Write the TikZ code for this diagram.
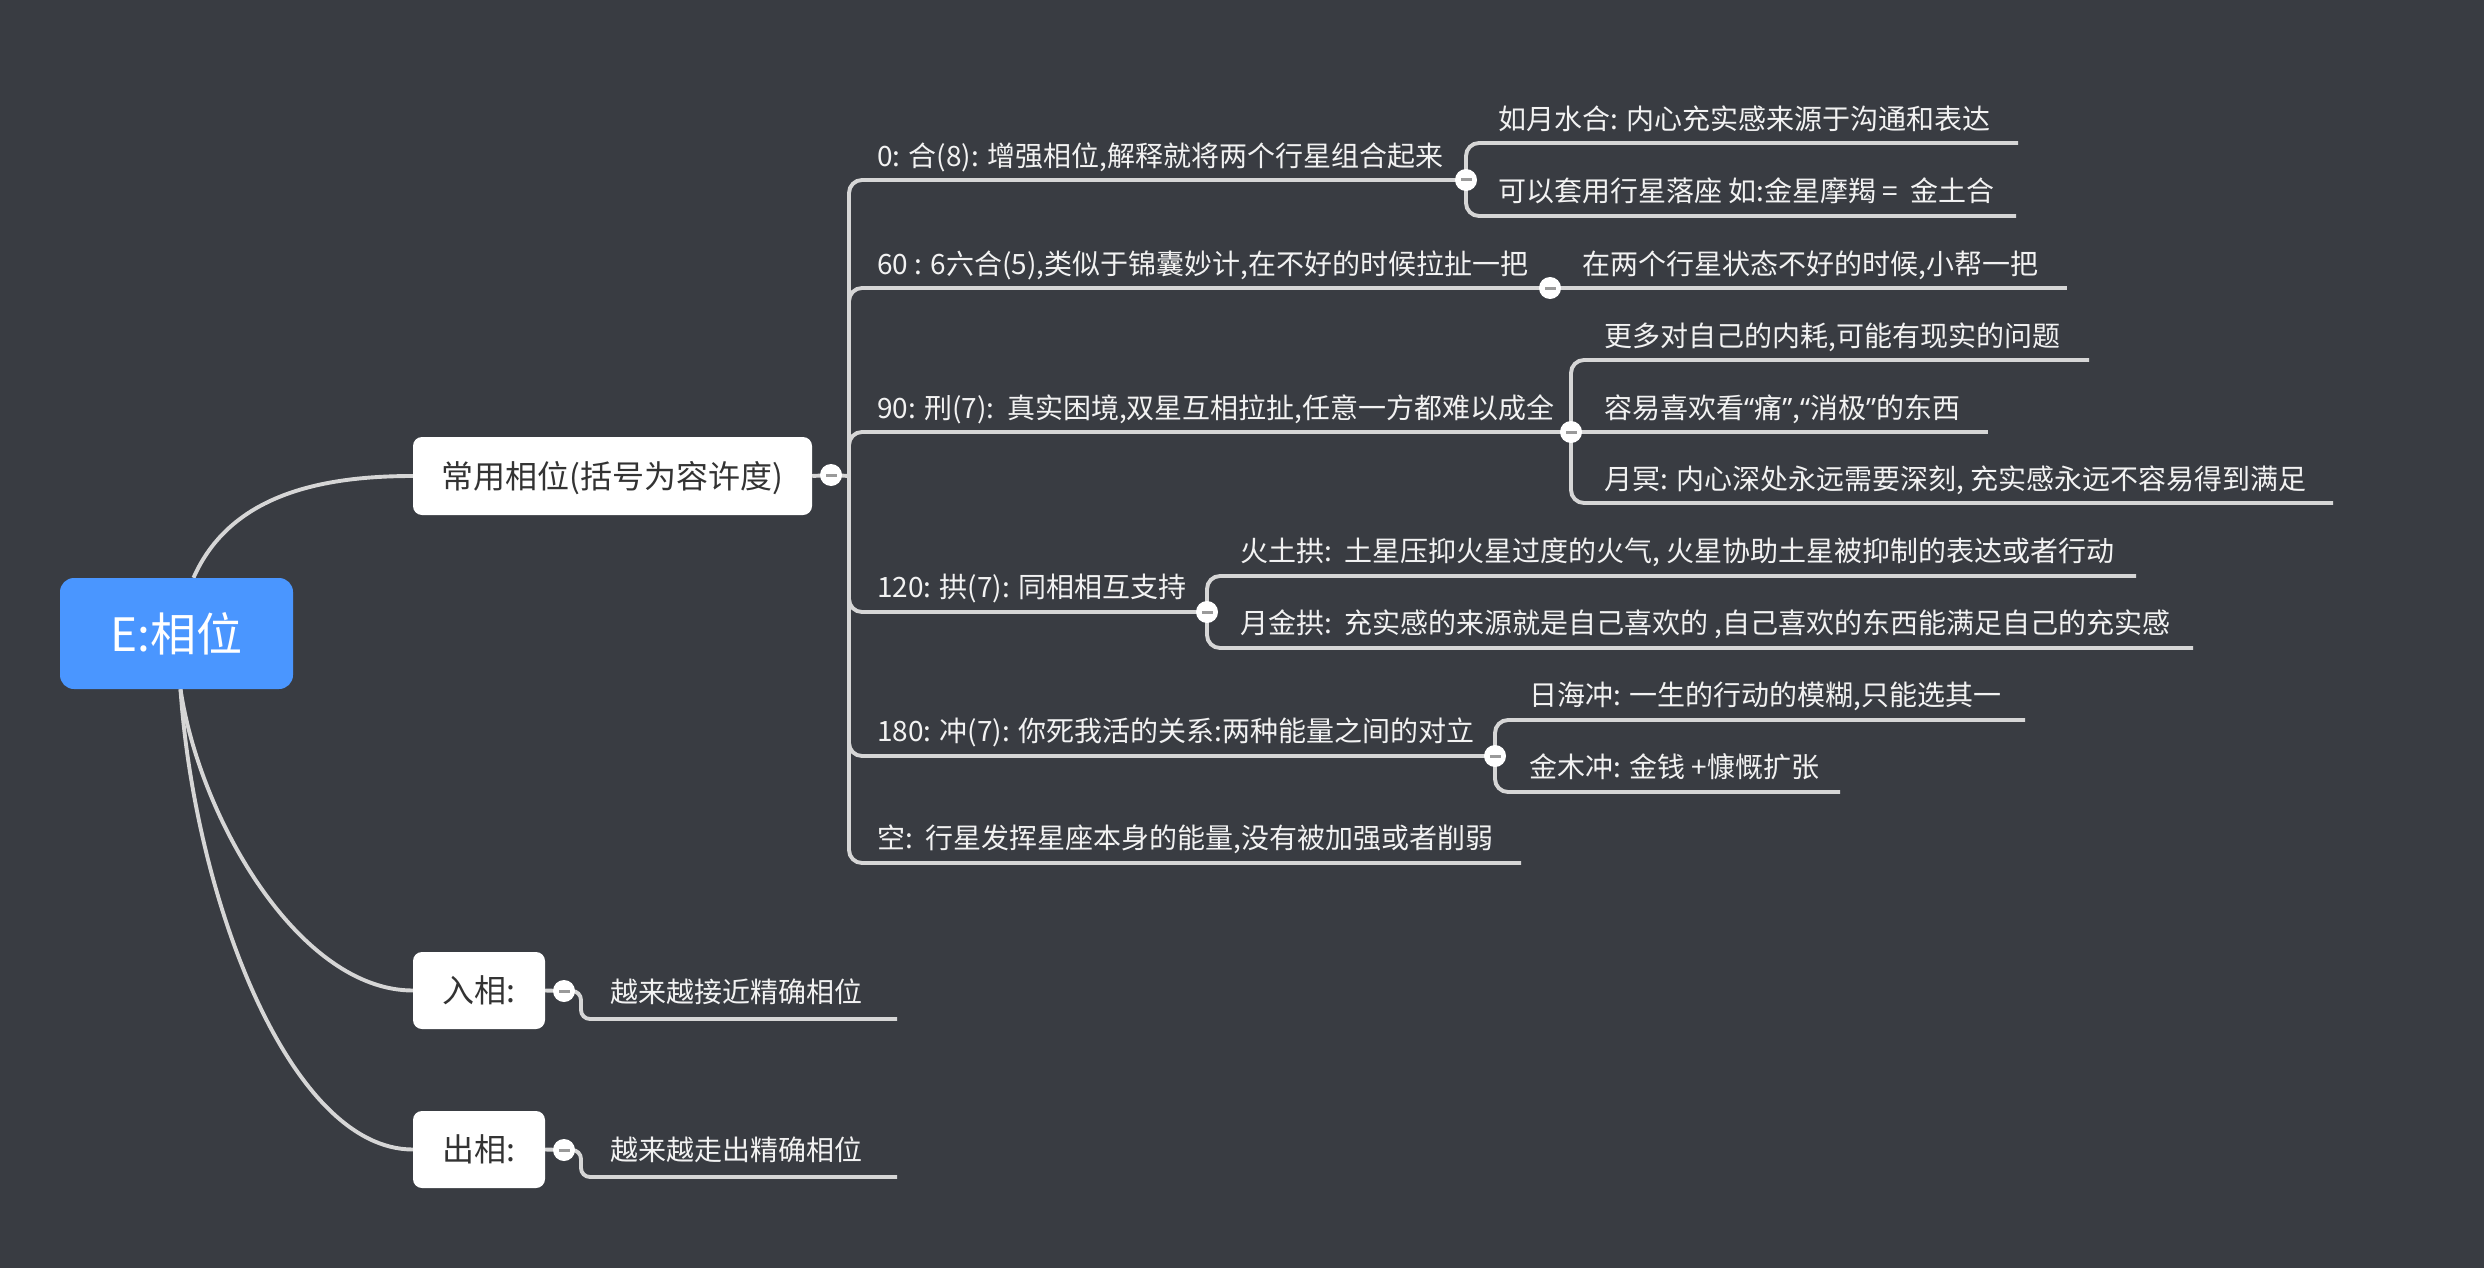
\documentclass[tikz,border=0pt]{standalone}
\usepackage{fontspec}
\setmainfont{Noto Sans CJK SC}
\newfontfamily\quotefont{Noto Sans}
\pgfdeclarelayer{back}
\pgfdeclarelayer{lines}
\pgfsetlayers{back,lines,main}

\definecolor{bgc}{HTML}{393C42}
\definecolor{linec}{HTML}{D6D6D6}
\definecolor{rootc}{HTML}{4A96FF}
\definecolor{boxtext}{HTML}{333333}
\definecolor{leafc}{HTML}{F2F2F2}
\definecolor{minusc}{HTML}{9A9A9A}

% narrow curly quotes
\newcommand{\openq}{{\quotefont “}}
\newcommand{\closeq}{{\quotefont ”}}

\tikzset{
  conn/.style={draw=linec, line width=3.9pt},
  leaf/.style={anchor=west, inner sep=0pt, text=leafc,
    font=\fontsize{28}{34}\selectfont, text height=23pt, text depth=2pt},
  topic/.style={fill=white, rounded corners=9pt, text=boxtext, inner sep=0pt,
    font=\fontsize{32}{38}\selectfont, text height=26pt, text depth=2pt},
  rootbox/.style={fill=rootc, rounded corners=14pt, text=white, inner sep=0pt,
    font=\fontsize{46}{54}\selectfont, text height=38pt, text depth=3pt},
  fold/.style={circle, fill=white, minimum size=22pt, inner sep=0pt,
    path picture={\fill[minusc] ([xshift=-5.5pt,yshift=-1.5pt]path picture bounding box.center) rectangle ++(11pt,3pt);}},
}

\begin{document}
\begin{tikzpicture}[x=1pt,y=-1pt]
\begin{pgfonlayer}{back}
  \fill[bgc] (0,0) rectangle (2484,1268);
\end{pgfonlayer}
\useasboundingbox (0,0) rectangle (2484,1268);

% central topic and main topics
\node[rootbox, minimum width=233pt, minimum height=111pt] (root) at (176.5,633.5) {E:相位};
\node[topic, minimum width=399pt, minimum height=78pt] (main) at (612.5,476) {常用相位(括号为容许度)};
\node[topic, minimum width=132pt, minimum height=77pt] (inbox) at (479,990.5) {入相:};
\node[topic, minimum width=132pt, minimum height=77pt] (outbox) at (479,1149.5) {出相:};

% fold markers
\node[fold] (fm) at (831,475) {};
\node[fold] (f0) at (1466,180) {};
\node[fold] (f60) at (1550,288) {};
\node[fold] (f90) at (1571,432) {};
\node[fold] (f120) at (1207,612) {};
\node[fold] (f180) at (1495,756) {};
\node[fold] (fin) at (564,991) {};
\node[fold] (fout) at (564,1150) {};

% junction on the trunk and ends of the underlines
\coordinate (j) at (849,476);
\coordinate (eN) at (1521,863);
\coordinate (e0a) at (2018,143);
\coordinate (e0b) at (2016,216);
\coordinate (e60a) at (2067,288);
\coordinate (e90a) at (2089,360);
\coordinate (e90b) at (1988,432);
\coordinate (e90c) at (2333,503);
\coordinate (e120a) at (2136,576);
\coordinate (e120b) at (2193,648);
\coordinate (e180a) at (2025,720);
\coordinate (e180b) at (1840,792);
\coordinate (ein) at (897,1019);
\coordinate (eout) at (897,1177);

% first level texts
\node[leaf] (t0) at (877,156) {0: 合(8): 增强相位,解释就将两个行星组合起来};
\node[leaf] (t60) at (877,264) {60 : 6六合(5),类似于锦囊妙计,在不好的时候拉扯一把};
\node[leaf] (t90) at (877,408) {90: 刑(7):~~真实困境,双星互相拉扯,任意一方都难以成全};
\node[leaf] (t120) at (877,587) {120: 拱(7): 同相相互支持};
\node[leaf] (t180) at (877,731) {180: 冲(7): 你死我活的关系:两种能量之间的对立};
\node[leaf] (tN) at (877,838) {空:~~行星发挥星座本身的能量,没有被加强或者削弱};

% second level texts
\node[leaf] (t0a) at (1498,119) {如月水合: 内心充实感来源于沟通和表达};
\node[leaf] (t0b) at (1498,191) {可以套用行星落座 如:金星摩羯 =~~金土合};
\node[leaf] (t60a) at (1582,264) {在两个行星状态不好的时候,小帮一把};
\node[leaf] (t90a) at (1604,336) {更多对自己的内耗,可能有现实的问题};
\node[leaf] (t90b) at (1604,408) {容易喜欢看\openq 痛\closeq,\openq 消极\closeq 的东西};
\node[leaf] (t90c) at (1604,479) {月冥: 内心深处永远需要深刻, 充实感永远不容易得到满足};
\node[leaf] (t120a) at (1240,551) {火土拱:~~土星压抑火星过度的火气, 火星协助土星被抑制的表达或者行动};
\node[leaf] (t120b) at (1240,623) {月金拱:~~充实感的来源就是自己喜欢的 ,自己喜欢的东西能满足自己的充实感};
\node[leaf] (t180a) at (1529,695) {日海冲: 一生的行动的模糊,只能选其一};
\node[leaf] (t180b) at (1529,767) {金木冲: 金钱 +慷慨扩张};
\node[leaf] (tin) at (610,992) {越来越接近精确相位};
\node[leaf] (tout) at (610,1150) {越来越走出精确相位};

\begin{pgfonlayer}{lines}
  % root to main topics
  \draw[conn] ([xshift=17pt]root.north) .. controls (230,495) and (320,476) .. (main.west);
  \draw[conn] ([xshift=4pt]root.south) .. controls (200,820) and (300,990.5) .. (inbox.west);
  \draw[conn] ([xshift=4pt]root.south) .. controls (195,900) and (290,1149.5) .. (outbox.west);

  % main topic trunk
  \draw[conn] (main.east) -- (fm.center) -- (j);
  \draw[conn, rounded corners=13pt] (j) |- (f0.center);
  \draw[conn, rounded corners=13pt] (j) |- (f60.center);
  \draw[conn, rounded corners=13pt] (j) |- (f90.center);
  \draw[conn, rounded corners=13pt] (j) |- (f120.center);
  \draw[conn, rounded corners=13pt] (j) |- (f180.center);
  \draw[conn, rounded corners=13pt] (j) |- (eN);

  % second level
  \draw[conn, rounded corners=13pt] (f0.center) |- (e0a);
  \draw[conn, rounded corners=13pt] (f0.center) |- (e0b);
  \draw[conn] (f60.center) -- (e60a);
  \draw[conn, rounded corners=13pt] (f90.center) |- (e90a);
  \draw[conn] (f90.center) -- (e90b);
  \draw[conn, rounded corners=13pt] (f90.center) |- (e90c);
  \draw[conn, rounded corners=13pt] (f120.center) |- (e120a);
  \draw[conn, rounded corners=13pt] (f120.center) |- (e120b);
  \draw[conn, rounded corners=13pt] (f180.center) |- (e180a);
  \draw[conn, rounded corners=13pt] (f180.center) |- (e180b);

  % entering / leaving aspects
  \draw[conn] (inbox.east) -- (fin.center);
  \draw[conn] (outbox.east) -- (fout.center);
  \draw[conn, rounded corners=9pt] (fin.center) -- ++(17,0) |- (ein);
  \draw[conn, rounded corners=9pt] (fout.center) -- ++(17,0) |- (eout);
\end{pgfonlayer}
\end{tikzpicture}
\end{document}
